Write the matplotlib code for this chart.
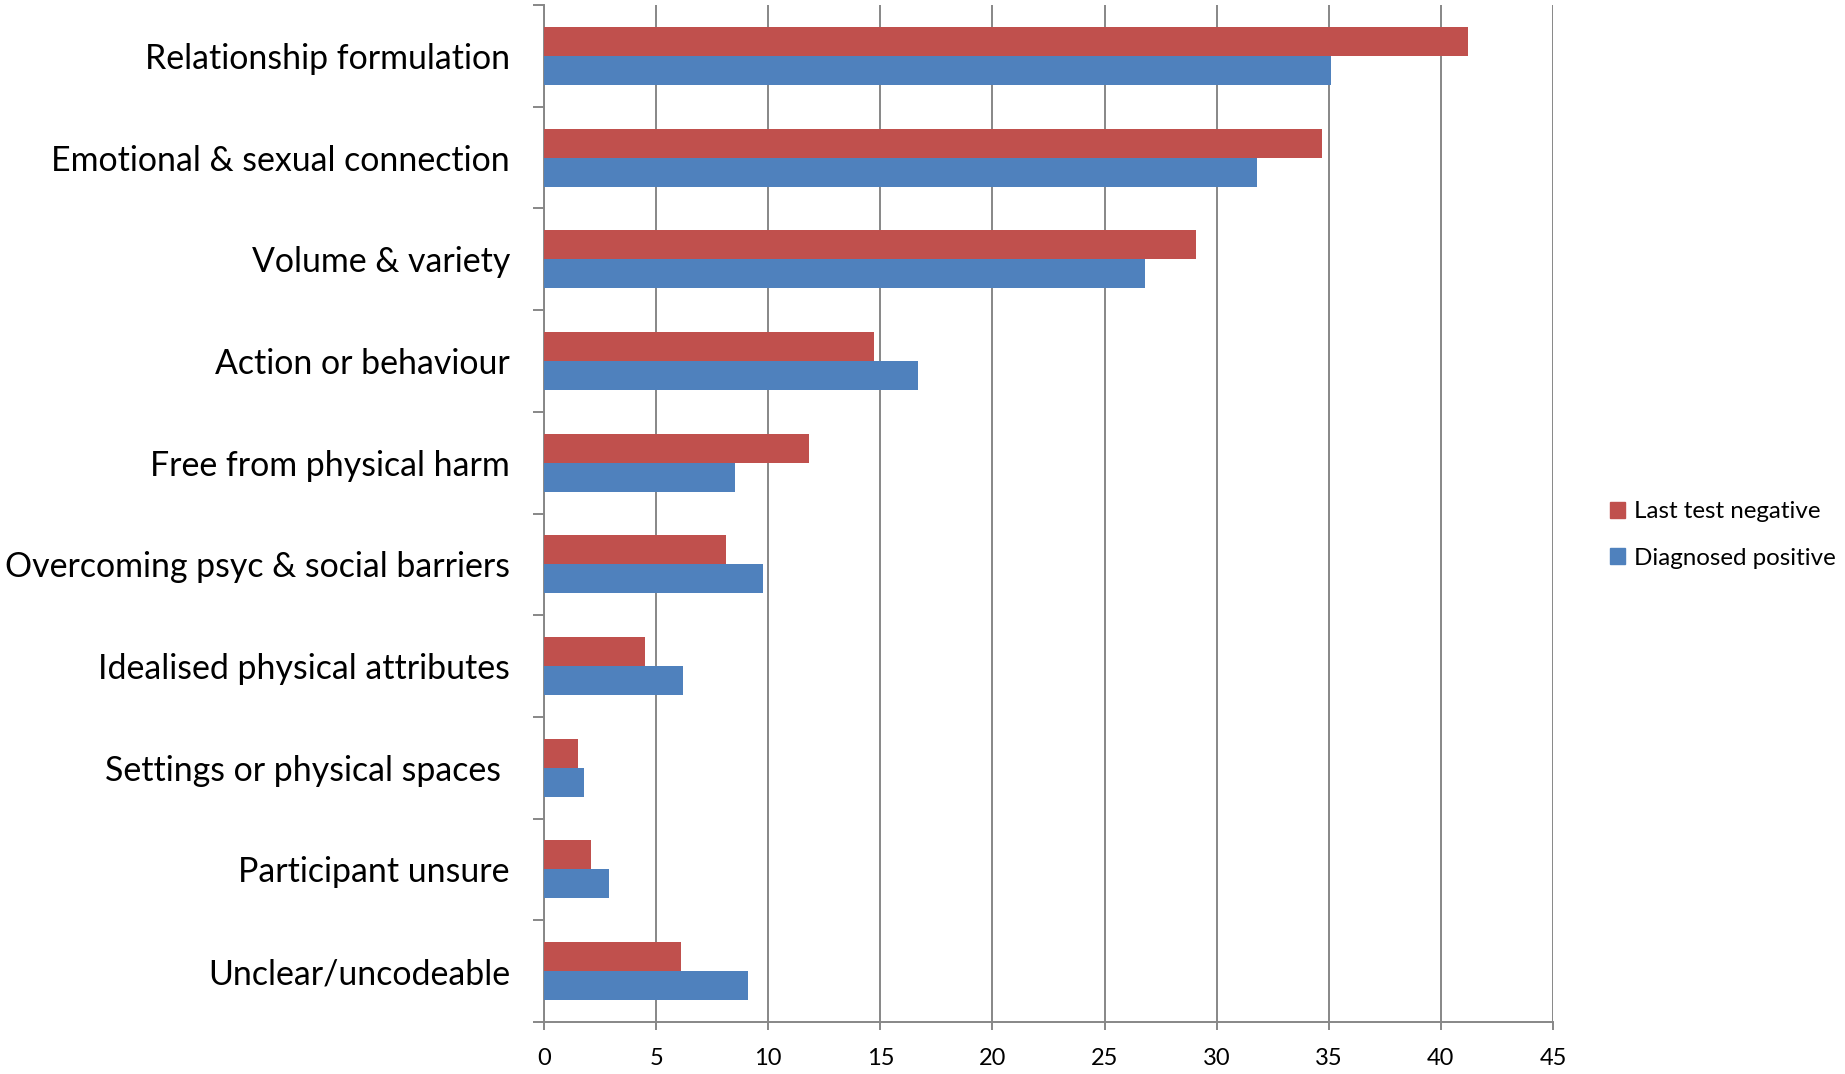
import matplotlib
matplotlib.use("Agg")
import matplotlib.pyplot as plt
from matplotlib.patches import Patch
import numpy as np

categories = [
    "Relationship formulation",
    "Emotional & sexual connection",
    "Volume & variety",
    "Action or behaviour",
    "Free from physical harm",
    "Overcoming psyc & social barriers",
    "Idealised physical attributes",
    "Settings or physical spaces ",
    "Participant unsure",
    "Unclear/uncodeable",
]
last_test_negative = [41.2, 34.7, 29.1, 14.7, 11.8, 8.1, 4.5, 1.5, 2.1, 6.1]
diagnosed_positive = [35.1, 31.8, 26.8, 16.7, 8.5, 9.75, 6.2, 1.8, 2.9, 9.1]
series_names = ["Last test negative", "Diagnosed positive"]
x_ticks = list(range(0, 50, 5))

RED = "#C0504D"
BLUE = "#4F81BD"
GRID = "#878787"

plt.rcParams["font.family"] = ["Lato", "DejaVu Sans"]

fig = plt.figure(figsize=(18.45, 10.74), dpi=100)
ax = fig.add_axes([544 / 1845, 1 - 1022 / 1074, (1553 - 544) / 1845, (1022 - 5) / 1074])

y = np.arange(len(categories))
h = 0.285
ax.barh(y - h / 2, last_test_negative, height=h, color=RED, zorder=3)
ax.barh(y + h / 2, diagnosed_positive, height=h, color=BLUE, zorder=3)

ax.set_xlim(0, 45)
ax.set_ylim(len(categories) - 0.5, -0.5)

# category labels sit between boundary ticks
ax.set_yticks(np.arange(-0.5, len(categories), 1.0))
ax.set_yticklabels([])
ax.set_yticks(y, minor=True)
ax.set_yticklabels(categories, minor=True, fontsize=24.4)
ax.tick_params(axis="y", which="major", length=8, width=1.4, color=GRID)
ax.tick_params(axis="y", which="minor", length=0, pad=24.5)

ax.set_xticks(x_ticks)
ax.set_xticklabels([str(t) for t in x_ticks], fontsize=17)
ax.tick_params(axis="x", length=5.8, width=1.4, color=GRID, pad=13)

ax.grid(axis="x", color=GRID, linewidth=1.4, zorder=0)
ax.set_axisbelow(True)

for side in ["top", "right"]:
    ax.spines[side].set_visible(False)
for side in ["left", "bottom"]:
    ax.spines[side].set_color(GRID)
    ax.spines[side].set_linewidth(1.4)

handles = [Patch(color=RED), Patch(color=BLUE)]
fig.legend(handles, series_names, loc="center left",
           bbox_to_anchor=(1588 / 1845, 1 - 535 / 1074), frameon=False,
           fontsize=17.4, handlelength=0.65, handleheight=0.65, handletextpad=0.35,
           labelspacing=1.05)

fig.savefig("out.png", dpi=100)
